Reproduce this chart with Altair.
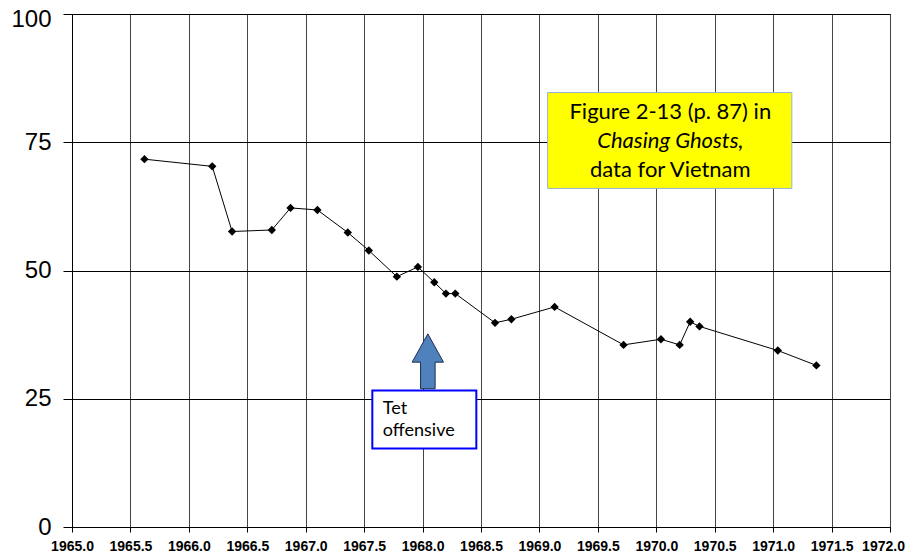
import altair as alt
import pandas as pd

# Data
years = [1965.62, 1966.20, 1966.37, 1966.71, 1966.87, 1967.10, 1967.36, 1967.54,
         1967.78, 1967.96, 1968.10, 1968.20, 1968.28, 1968.62, 1968.76, 1969.13,
         1969.72, 1970.04, 1970.20, 1970.29, 1970.37, 1971.04, 1971.37]
values = [71.7, 70.3, 57.6, 57.9, 62.2, 61.8, 57.4, 53.9, 48.8, 50.7, 47.7, 45.5,
          45.5, 39.8, 40.5, 42.9, 35.5, 36.6, 35.5, 40.0, 39.1, 34.4, 31.5]
x_ticks = [1965.0, 1965.5, 1966.0, 1966.5, 1967.0, 1967.5, 1968.0, 1968.5,
           1969.0, 1969.5, 1970.0, 1970.5, 1971.0, 1971.5, 1972.0]
y_ticks = [0, 25, 50, 75, 100]

note_lines = ["Figure 2-13 (p. 87) in", "Chasing Ghosts,", "data for Vietnam"]
note_styles = ["normal", "italic", "normal"]
tet_lines = ["Tet", "offensive"]

df = pd.DataFrame({"year": years, "value": values})

xs = alt.Scale(domain=[1965, 1972], nice=False, zero=False)
ys = alt.Scale(domain=[0, 100], nice=False)

X = alt.X("year:Q", scale=xs,
          axis=alt.Axis(values=x_ticks, format=".1f", title=None, grid=True,
                        gridColor="#444444", gridWidth=1, tickColor="black",
                        domainColor="black", tickSize=5, labelPadding=7,
                        labelFont="Liberation Sans", labelFontWeight="bold",
                        labelFontSize=14, labelColor="black", labelOverlap=False,
                        labelFlush=False,
                        labelOffset={"condition": {"test": "datum.value === 1972",
                                                   "value": -7}, "value": 0}))
Y = alt.Y("value:Q", scale=ys,
          axis=alt.Axis(values=y_ticks, title=None, grid=True, gridColor="black",
                        gridWidth=1, tickColor="black", domainColor="black",
                        tickSize=9, labelPadding=12, labelFont="Liberation Sans",
                        labelFontSize=24, labelColor="black", labelFlush=False,
                        labelOffset={"condition": {"test": "datum.value === 100",
                                                   "value": 5}, "value": 0}))

line = alt.Chart(df).mark_line(color="black", strokeWidth=1).encode(x=X, y=Y)
pts = alt.Chart(df).mark_point(shape="diamond", filled=True, color="black",
                               size=70, opacity=1).encode(x="year:Q", y="value:Q")

# annotation boxes
note_box = alt.Chart(pd.DataFrame({"x": [1969.07], "x2": [1971.16],
                                   "y": [84.7], "y2": [66.0]})).mark_rect(
    fill="#FFFF00", stroke="#95B3D7", strokeWidth=1).encode(
    x="x:Q", x2="x2:Q", y="y:Q", y2="y2:Q")

tet_box = alt.Chart(pd.DataFrame({"x": [1967.57], "x2": [1968.46],
                                  "y": [26.6], "y2": [15.3]})).mark_rect(
    fill="white", stroke="#0000FF", strokeWidth=2).encode(
    x="x:Q", x2="x2:Q", y="y:Q", y2="y2:Q")

arrow_path = ("M0,-0.98 L0.56,0.03 L0.26,0.03 L0.26,0.98 L-0.26,0.98 "
              "L-0.26,0.03 L-0.56,0.03 Z")
arrow = alt.Chart(pd.DataFrame({"x": [1968.045], "y": [32.3]})).mark_point(
    shape=arrow_path, size=3136, filled=True, fill="#4F81BD", stroke="#1F2F4F",
    strokeWidth=1, opacity=1).encode(x="x:Q", y="y:Q")

note_texts = []
for txt, style, yv in zip(note_lines, note_styles, [79.5, 73.9, 68.3]):
    note_texts.append(
        alt.Chart(pd.DataFrame({"x": [1970.12], "y": [yv], "t": [txt]})).mark_text(
            font="Lato", fontSize=22, fontStyle=style, color="black",
            align="center", baseline="alphabetic").encode(
            x="x:Q", y="y:Q", text="t:N"))

tet_texts = []
for txt, yv in zip(tet_lines, [22.0, 17.7]):
    tet_texts.append(
        alt.Chart(pd.DataFrame({"x": [1967.66], "y": [yv], "t": [txt]})).mark_text(
            font="Lato", fontSize=18, color="black", align="left",
            baseline="alphabetic").encode(x="x:Q", y="y:Q", text="t:N"))

chart = alt.layer(line, pts, note_box, tet_box, arrow, *note_texts, *tet_texts).properties(
    width=818, height=513,
    autosize=alt.AutoSizeParams(type="none"),
    padding={"left": 64, "top": 6, "right": 16, "bottom": 26},
    background="white",
).configure_view(stroke="black", strokeWidth=1)

chart.save("out.html", embed_options={"renderer": "svg", "actions": False})
